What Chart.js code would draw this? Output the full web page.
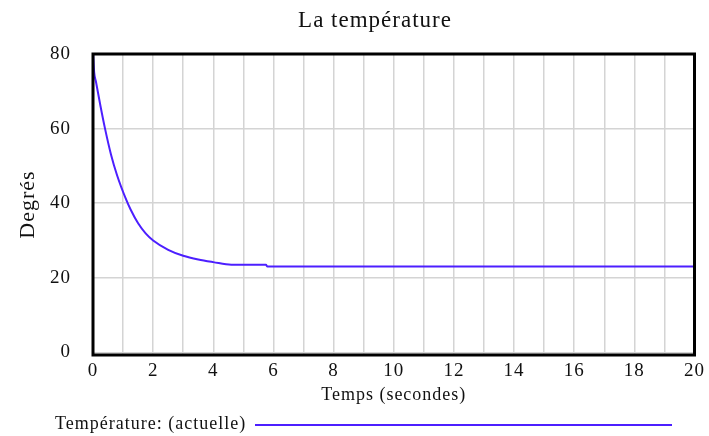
<!DOCTYPE html>
<html>
<head>
<meta charset="utf-8">
<title>La température</title>
<script src="https://cdn.jsdelivr.net/npm/chart.js"></script>
<style>
  html, body { margin: 0; padding: 0; background: #fff; }
</style>
</head>
<body>
<canvas id="tempChart" width="709" height="436"></canvas>
<script>
// temps (s) et température
const timeValues = [0, 0.04, 0.1, 0.25, 0.4, 0.6, 0.8, 1.1, 1.25, 1.5, 1.75, 2, 2.5, 3, 3.5, 4, 4.6, 5.75, 5.8, 8, 10, 12, 14, 16, 18, 20];
const tempValues = [80.5, 75, 72.5, 66, 60, 53, 47.5, 41, 38.3, 34.6, 31.9, 30, 27.5, 25.9, 24.9, 24.2, 23.5, 23.5, 23, 23, 23, 23, 23, 23, 23, 23];
const xLabels = [0, 2, 4, 6, 8, 10, 12, 14, 16, 18, 20];
const yLabels = [0, 20, 40, 60, 80];

const seriesName = 'Température: (actuelle)';
const chartTitle = 'La température';
const lineColor = '#4c1fff';
const serif = '"Liberation Serif", "DejaVu Serif", serif';

const framePlugin = {
  id: 'frame',
  beforeDraw(chart) {
    // the reference font is drawn a bit wider than Liberation Serif
    chart.ctx.letterSpacing = '1px';
  },
  afterDatasetsDraw(chart) {
    const { ctx, chartArea: a } = chart;
    ctx.save();
    ctx.strokeStyle = '#000';
    ctx.lineWidth = 3;
    ctx.strokeRect(a.left, a.top, a.right - a.left, a.bottom - a.top);
    ctx.restore();
  },
  afterDraw(chart) {
    const ctx = chart.ctx;
    ctx.save();
    // titre
    ctx.fillStyle = '#111';
    ctx.font = '23px ' + serif;
    ctx.textAlign = 'center';
    ctx.textBaseline = 'middle';
    ctx.fillText(chartTitle, 375, 21);
    // légende
    ctx.font = '18px ' + serif;
    ctx.textAlign = 'left';
    ctx.fillText(seriesName, 55, 424);
    ctx.strokeStyle = lineColor;
    ctx.lineWidth = 2;
    ctx.beginPath();
    ctx.moveTo(255, 425);
    ctx.lineTo(672, 425);
    ctx.stroke();
    ctx.restore();
  }
};

new Chart(document.getElementById('tempChart'), {
  type: 'line',
  data: {
    datasets: [{
      label: seriesName,
      data: timeValues.map((t, i) => ({ x: t, y: tempValues[i] })),
      borderColor: lineColor,
      borderWidth: 2,
      pointRadius: 0,
      cubicInterpolationMode: 'monotone',
      fill: false
    }]
  },
  options: {
    responsive: false,
    animation: false,
    layout: { padding: { left: 0, right: 11, top: 54, bottom: 30 } },
    plugins: {
      legend: { display: false },
      title: { display: false },
      tooltip: { enabled: false }
    },
    scales: {
      x: {
        type: 'linear',
        min: 0,
        max: 20,
        afterFit(scale) { scale.height = 51; },
        grid: { color: '#d4d4d4', lineWidth: 1.5, drawTicks: false },
        border: { display: false },
        ticks: {
          stepSize: 1,
          autoSkip: false,
          maxRotation: 0,
          padding: 5,
          color: '#111',
          font: { family: serif, size: 19 },
          callback: v => xLabels.includes(v) ? String(v) : ''
        },
        title: {
          display: true,
          text: 'Temps (secondes)',
          color: '#111',
          padding: 0,
          font: { family: serif, size: 18 }
        }
      },
      y: {
        min: -0.7,
        max: 80,
        afterFit(scale) { scale.width = 93; },
        afterBuildTicks(scale) { scale.ticks = yLabels.map(v => ({ value: v })); },
        grid: { color: '#d4d4d4', lineWidth: 1.5, drawTicks: false },
        border: { display: false },
        ticks: {
          padding: 22,
          color: '#111',
          font: { family: serif, size: 19 }
        },
        title: {
          display: true,
          text: 'Degrés',
          color: '#111',
          padding: { top: 15, bottom: 0 },
          font: { family: serif, size: 22 }
        }
      }
    }
  },
  plugins: [framePlugin]
});
</script>
</body>
</html>
